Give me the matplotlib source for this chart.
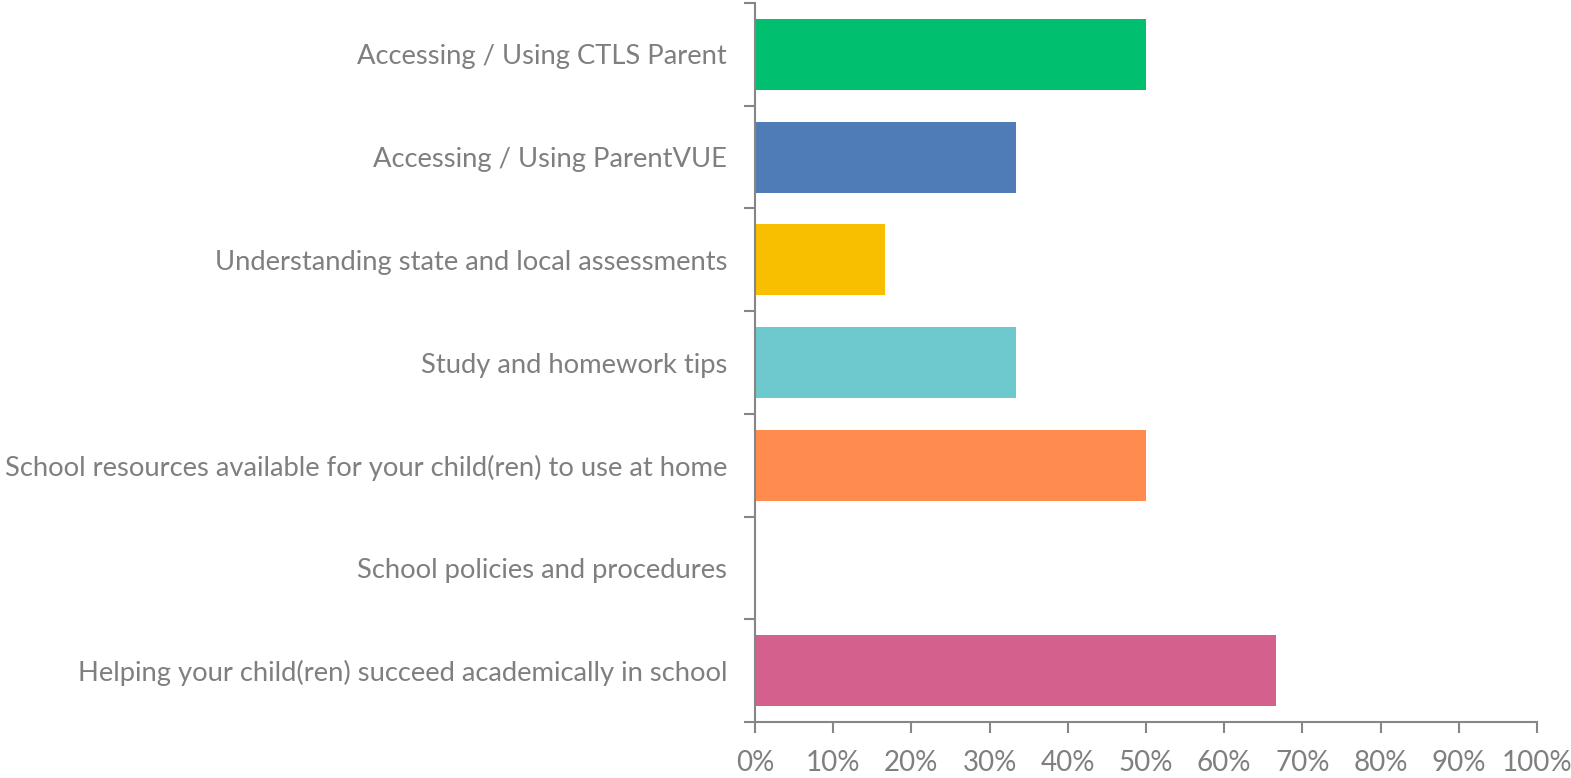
import matplotlib.pyplot as plt
import numpy as np
from matplotlib.ticker import FixedLocator, PercentFormatter

categories = [
    "Accessing / Using CTLS Parent",
    "Accessing / Using ParentVUE",
    "Understanding state and local assessments",
    "Study and homework tips",
    "School resources available for your child(ren) to use at home",
    "School policies and procedures",
    "Helping your child(ren) succeed academically in school",
]
values = [50.0, 33.33, 16.67, 33.33, 50.0, 0.0, 66.67]
colors = ["#00BF6F", "#4F7CB7", "#F8BF00", "#6DC9CD", "#FF8B4F", "#FFFFFF", "#D4608E"]

grey = "#868686"
text_grey = "#7F7F7F"

plt.rcParams['font.family'] = ['Lato', 'DejaVu Sans']

fig = plt.figure(figsize=(15.71, 7.78), dpi=100)
ax = fig.add_axes([0.4806, 0.072, 0.9784 - 0.4806, 0.9961 - 0.072])

y = np.arange(len(categories))
ax.barh(y, values, height=0.69, color=colors)
ax.set_ylim(len(categories) - 0.5, -0.5)
ax.set_xlim(0, 100)

ax.set_yticks(y)
ax.set_yticklabels(categories, fontsize=19.7, color=text_grey)
ax.yaxis.set_minor_locator(FixedLocator(np.arange(-0.5, len(categories), 1)))
ax.tick_params(axis="y", which="major", length=0, pad=20)
ax.tick_params(axis="y", which="minor", length=8, width=1.5, color=grey)

ax.set_xticks(np.arange(0, 101, 10))
ax.xaxis.set_major_formatter(PercentFormatter(decimals=0))
ax.tick_params(axis="x", length=8, width=1.5, color=grey, labelsize=20,
               labelcolor=text_grey, pad=12)

for s in ["top", "right"]:
    ax.spines[s].set_visible(False)
for s in ["left", "bottom"]:
    ax.spines[s].set_color(grey)
    ax.spines[s].set_linewidth(1.5)

fig.savefig("out.png", dpi=100)
